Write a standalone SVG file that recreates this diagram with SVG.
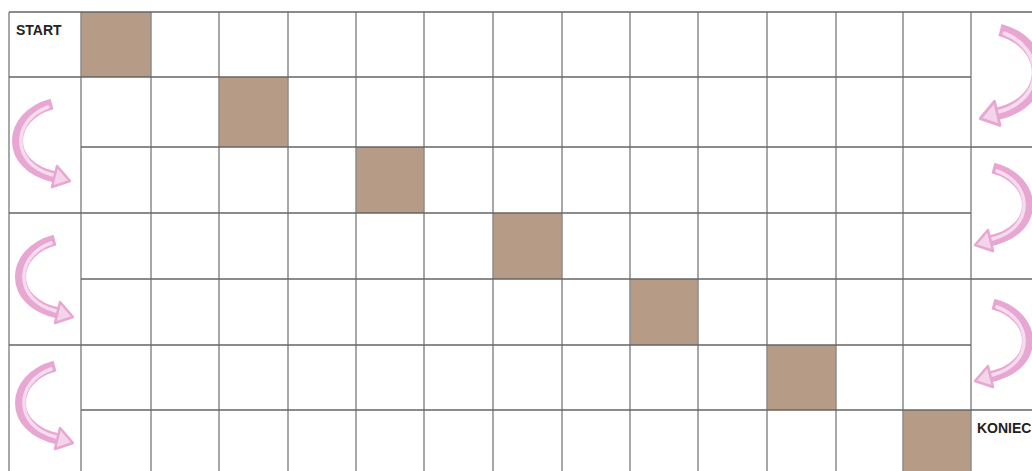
<svg xmlns="http://www.w3.org/2000/svg" width="1032" height="471" viewBox="0 0 1032 471">
<style>
.bg{fill:#ffffff}
.sq{fill:#b69b87}
.v{stroke:#8c8c8c;stroke-width:1.5;fill:none}
.h{stroke:#666666;stroke-width:1.6;fill:none}
.lbl{font-family:"Liberation Sans",Arial,sans-serif;font-weight:bold;font-size:14px;fill:#222}
.ao{fill:none;stroke:#e8a6d2;stroke-width:11;stroke-linecap:butt}
.ai{fill:none;stroke:#f6dcee;stroke-width:3.5;stroke-linecap:round}
.ah{fill:#f4d4ea;stroke:#e8a6d2;stroke-width:2.5;stroke-linejoin:round}
</style>
<defs>
<g id="arrow">
<path class="ao" d="M0,0 C-45,12 -48,62 3,73"/>
<path class="ai" d="M-4,3 C-40,16 -42,60 1,71"/>
<polygon class="ah" points="0,83 18,77 5,62"/>
</g>
</defs>
<rect class="bg" x="0" y="0" width="1032" height="471"/>
<g id="cells">
<rect class="sq" x="81" y="12" width="70" height="65"/>
<rect class="sq" x="219" y="77" width="69" height="70"/>
<rect class="sq" x="356" y="147" width="68" height="66"/>
<rect class="sq" x="493" y="213" width="69" height="66"/>
<rect class="sq" x="630" y="279" width="68" height="66"/>
<rect class="sq" x="767" y="345" width="69" height="65"/>
<rect class="sq" x="903" y="410" width="68" height="61"/>
</g>
<g id="grid">
<path class="v" d="M9,12V471M81,12V471M151,12V471M219,12V471M288,12V471M356,12V471M424,12V471M493,12V471M562,12V471M630,12V471M698,12V471M767,12V471M836,12V471M903,12V471M971,12V471"/>
<path class="h" d="M9,12H1032M9,77H971M81,147H1032M9,213H971M81,279H1032M9,345H971M81,410H1032"/>
</g>
<g id="start"><text class="lbl" x="16" y="35">START</text></g>
<g id="koniec"><text class="lbl" x="977" y="433">KONIEC</text></g>
<g id="connectors">
<use href="#arrow" transform="translate(52,104)"/>
<use href="#arrow" transform="translate(55,240)"/>
<use href="#arrow" transform="translate(55,366)"/>
<use href="#arrow" transform="translate(1000,30) scale(-1.1,1.15)"/>
<use href="#arrow" transform="translate(993,168) scale(-1,1)"/>
<use href="#arrow" transform="translate(993,304) scale(-1,1)"/>
</g>
</svg>
